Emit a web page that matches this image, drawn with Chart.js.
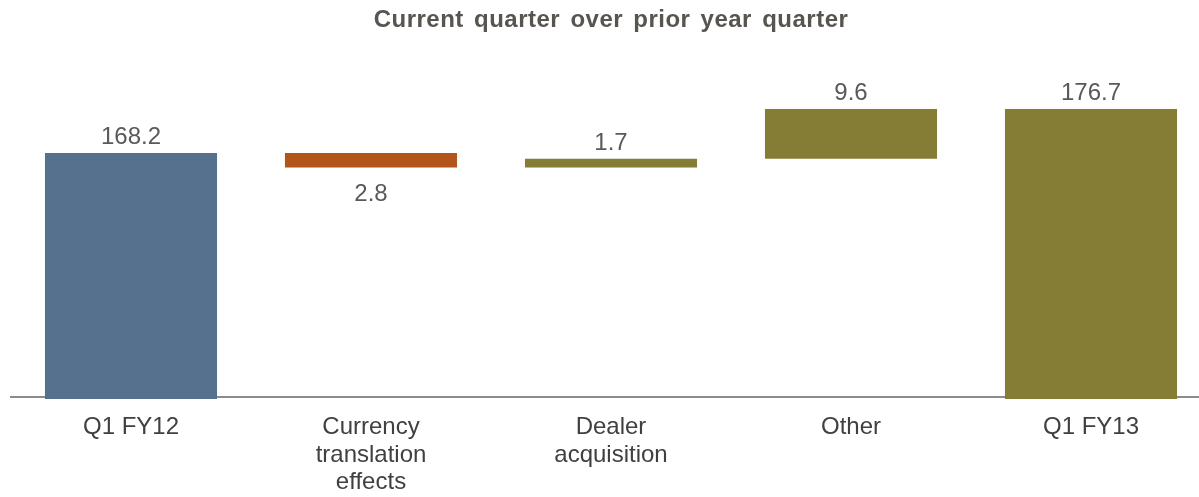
<!DOCTYPE html>
<html>
<head>
<meta charset="utf-8">
<title>Current quarter over prior year quarter</title>
<script src="https://cdn.jsdelivr.net/npm/chart.js@4/dist/chart.umd.min.js"></script>
<style>
    html, body { margin: 0; padding: 0; background: #fff; overflow: hidden; }
    #wrap { position: absolute; left: 0; top: 0; width: 1212px; height: 497px; }
</style>
</head>
<body>
<div id="wrap"><canvas id="bridgeChart"></canvas></div>
<script>
const TITLE = 'Current quarter over prior year quarter';
const categories = [['Q1 FY12'], ['Currency', 'translation', 'effects'], ['Dealer', 'acquisition'], ['Other'], ['Q1 FY13']];
const values = [168.2, -2.8, 1.7, 9.6, 176.7];
const isTotal = [true, false, false, false, true];
const barColors = ['#56718d', '#b3541a', '#857c35', '#857c35', '#857c35'];

const FONT = "'Liberation Sans', Arial, sans-serif";

// Build floating [from, to] ranges for the bridge
function buildRanges() {
    const ranges = [];
    let running = 0;
    values.forEach((v, i) => {
        if (isTotal[i]) {
            ranges.push([0, v]);
            running = v;
        } else {
            ranges.push([running, running + v]);
            running += v;
        }
    });
    return ranges;
}

const valueLabels = {
    id: 'valueLabels',
    afterDatasetsDraw(chart) {
        const ctx = chart.ctx;
        const meta = chart.getDatasetMeta(0);
        ctx.save();
        ctx.font = '24px ' + FONT;
        ctx.fillStyle = '#595959';
        ctx.textAlign = 'center';
        meta.data.forEach((bar, i) => {
            const text = Math.abs(values[i]).toFixed(1);
            const top = Math.min(bar.y, bar.base);
            const bottom = Math.max(bar.y, bar.base);
            if (values[i] < 0) {
                ctx.textBaseline = 'top';
                ctx.fillText(text, bar.x, bottom + 15);
            } else {
                ctx.textBaseline = 'alphabetic';
                ctx.fillText(text, bar.x, top - 9);
            }
        });
        ctx.restore();
    }
};

const chartTitle = {
    id: 'chartTitle',
    afterDraw(chart) {
        const ctx = chart.ctx;
        ctx.save();
        ctx.font = 'bold 24px ' + FONT;
        ctx.fillStyle = '#58544f';
        ctx.textAlign = 'center';
        ctx.textBaseline = 'alphabetic';
        ctx.letterSpacing = '0.5px';
        ctx.wordSpacing = '3px';
        ctx.fillText(TITLE, 611, 27);
        ctx.restore();
    }
};

new Chart(document.getElementById('bridgeChart'), {
    type: 'bar',
    data: {
        labels: categories,
        datasets: [{
            data: buildRanges(),
            backgroundColor: barColors,
            borderWidth: 0,
            borderSkipped: false,
            categoryPercentage: 1,
            barPercentage: 0.717,
            clip: { left: false, top: false, right: false, bottom: 2 }
        }]
    },
    options: {
        responsive: true,
        maintainAspectRatio: false,
        animation: false,
        layout: { padding: { top: 92, left: 11, right: 1, bottom: 0 } },
        plugins: {
            legend: { display: false },
            tooltip: { enabled: false },
            title: { display: false }
        },
        scales: {
            x: {
                z: 1,
                grid: { display: false, drawTicks: false },
                border: { display: true, color: '#8c8c8c', width: 2 },
                ticks: {
                    padding: 17,
                    color: '#404040',
                    font: { family: FONT, size: 24, lineHeight: 1.146 },
                    maxRotation: 0,
                    autoSkip: false
                },
                afterFit(scale) { scale.height = 100; }
            },
            y: {
                display: false,
                min: 121,
                max: 180
            }
        }
    },
    plugins: [valueLabels, chartTitle]
});
</script>
</body>
</html>
